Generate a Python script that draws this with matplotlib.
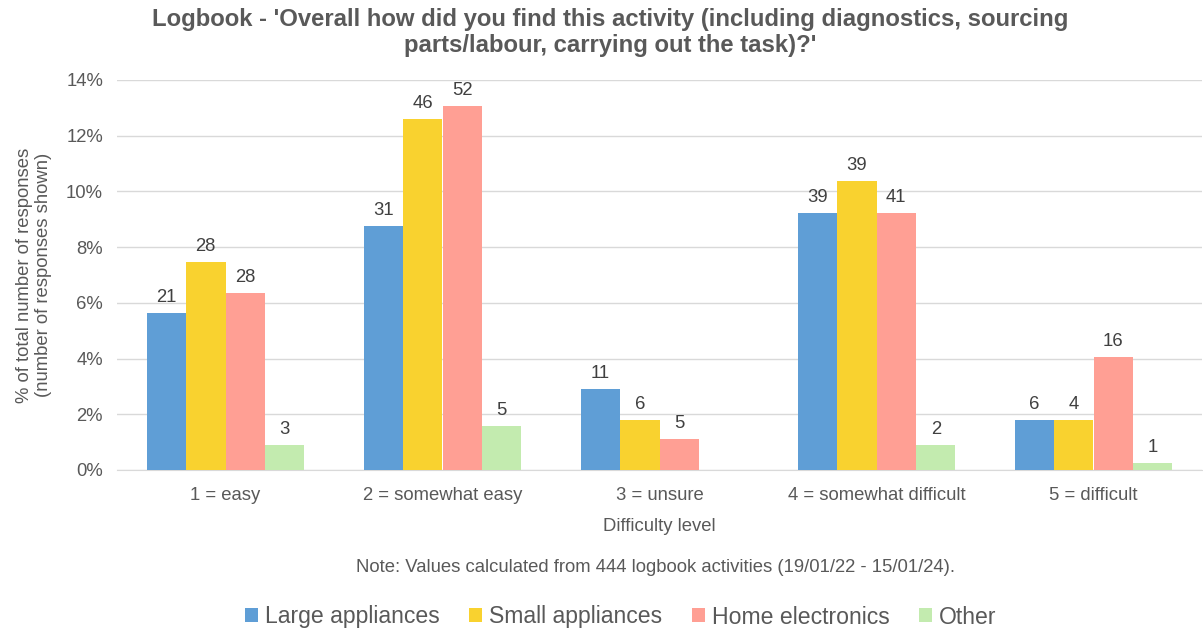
import numpy as np
import matplotlib.pyplot as plt

plt.rcParams['font.family'] = ['Liberation Sans', 'DejaVu Sans']

categories = ["1 = easy", "2 = somewhat easy", "3 = unsure",
              "4 = somewhat difficult", "5 = difficult"]
series_names = ["Large appliances", "Small appliances", "Home electronics", "Other"]

# percentages
large_pct = [5.63, 8.76, 2.92, 9.23, 1.80]
small_pct = [7.46, 12.60, 1.80, 10.38, 1.80]
home_pct = [6.35, 13.07, 1.13, 9.23, 4.05]
other_pct = [0.89, 1.59, 0.0, 0.89, 0.24]

# counts shown as labels
large_n = [21, 31, 11, 39, 6]
small_n = [28, 46, 6, 39, 4]
home_n = [28, 52, 5, 41, 16]
other_n = [3, 5, 0, 2, 1]

colors = ["#5F9ED6", "#F9D22F", "#FF9F94", "#C3EBAF"]
text_grey = "#595959"
fs = 13.3

pcts = [large_pct, small_pct, home_pct, other_pct]
counts = [large_n, small_n, home_n, other_n]

fig = plt.figure(figsize=(12.03, 6.35), dpi=100)
ax = fig.add_axes([117 / 1203, 1 - 470 / 635, 1085 / 1203, 390 / 635])

x = np.arange(len(categories))
width = 0.182
for i, (vals, ns) in enumerate(zip(pcts, counts)):
    pos = x + (i - 1.5) * width
    ax.bar(pos, vals, width, color=colors[i], label=series_names[i], zorder=3)
    for px, v, n in zip(pos, vals, ns):
        if n == 0:
            continue
        ax.text(px, v + 0.25, str(n), ha='center', va='bottom',
                fontsize=fs, color="#404040")

ax.set_xlim(-0.5, len(categories) - 0.5)
ax.set_ylim(0, 14)
ax.set_yticks(np.arange(0, 15, 2))
ax.set_yticklabels([f"{v}%" for v in range(0, 15, 2)])
ax.set_xticks(x)
ax.set_xticklabels(categories)
ax.tick_params(axis='both', length=0, labelsize=fs, labelcolor=text_grey)
ax.tick_params(axis='x', pad=12)
ax.tick_params(axis='y', pad=10)
ax.grid(axis='y', color="#D9D9D9", linewidth=1, zorder=0)
for s in ['top', 'right', 'left']:
    ax.spines[s].set_visible(False)
ax.spines['bottom'].set_color("#D9D9D9")

ax.set_xlabel("Difficulty level", fontsize=fs, color=text_grey, labelpad=10)
ax.set_ylabel("% of total number of responses\n(number of responses shown)",
              fontsize=fs, color=text_grey, labelpad=10)

fig.text(0.507, 0.987,
         "Logbook - 'Overall how did you find this activity (including diagnostics, sourcing\n"
         "parts/labour, carrying out the task)?'",
         ha='center', va='top', fontsize=17.2, fontweight='bold', color=text_grey,
         linespacing=1.15)

fig.text(0.545, 1 - 567 / 635,
         "Note: Values calculated from 444 logbook activities (19/01/22 - 15/01/24).",
         ha='center', va='center', fontsize=fs, color=text_grey)

fig.legend(loc='center', bbox_to_anchor=(0.516, 1 - 617 / 635), ncol=4,
           frameon=False, fontsize=16.6, handlelength=0.55, handleheight=0.55,
           handletextpad=0.3, columnspacing=1.3, labelcolor=text_grey)

fig.savefig("out.png", dpi=100)
